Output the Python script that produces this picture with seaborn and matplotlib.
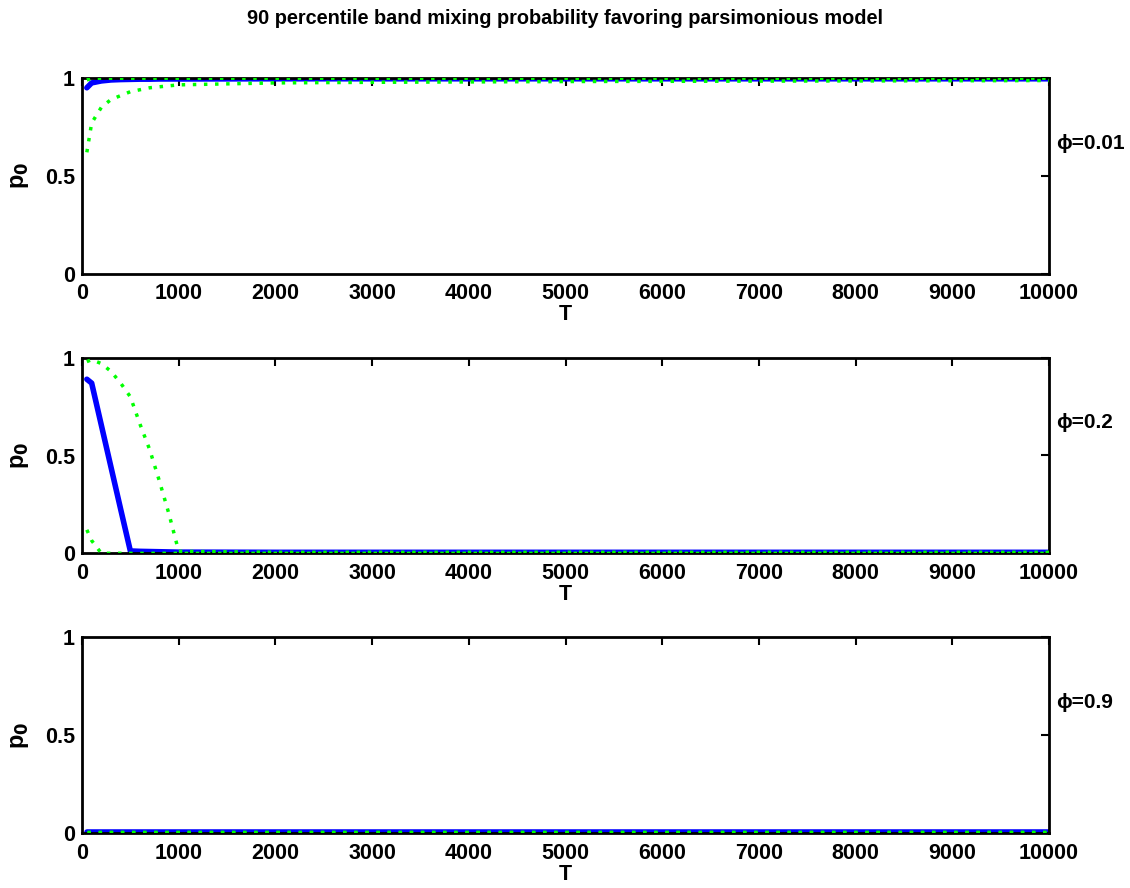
import pandas as pd
import matplotlib.pyplot as plt
import numpy as np
import seaborn as sns

# sample sizes T (the grid the curves were evaluated on)
T = [50, 100, 200, 300, 400, 500, 600, 700, 800, 900, 1000,
     2000, 3000, 4000, 5000, 6000, 7000, 8000, 9000, 10000]

phis = ['0.01', '0.2', '0.9']

# phi = 0.01
med_001 = [0.950, 0.975, 0.985, 0.990, 0.992, 0.993, 0.994, 0.994, 0.995, 0.995, 0.995,
           0.996, 0.996, 0.996, 0.996, 0.996, 0.996, 0.996, 0.996, 0.996]
lo_001 = [0.62, 0.77, 0.85, 0.89, 0.91, 0.93, 0.94, 0.95, 0.955, 0.96, 0.965,
          0.975, 0.978, 0.980, 0.982, 0.983, 0.984, 0.985, 0.986, 0.987]
hi_001 = [0.99, 0.998, 0.999, 0.999, 0.999, 0.999, 0.999, 0.999, 0.999, 0.999, 0.999,
          0.999, 0.999, 0.999, 0.999, 0.999, 0.999, 0.999, 0.999, 0.999]

# phi = 0.2
med_02 = [0.89, 0.87, 0.655, 0.44, 0.225, 0.012, 0.010, 0.009, 0.008, 0.007, 0.006,
          0.005, 0.005, 0.005, 0.005, 0.005, 0.005, 0.005, 0.005, 0.005]
lo_02 = [0.12, 0.065, 0.0, 0.0, 0.0, 0.0, 0.0, 0.0, 0.0, 0.0, 0.0,
         0.0, 0.0, 0.0, 0.0, 0.0, 0.0, 0.0, 0.0, 0.0]
hi_02 = [0.98, 0.99, 0.97, 0.93, 0.87, 0.80, 0.66, 0.53, 0.37, 0.20, 0.01,
         0.005, 0.005, 0.005, 0.005, 0.005, 0.005, 0.005, 0.005, 0.005]

# phi = 0.9
med_09 = [0.003] * 20
lo_09 = [0.003] * 20
hi_09 = [0.003] * 20

med = [med_001, med_02, med_09]
lo = [lo_001, lo_02, lo_09]
hi = [hi_001, hi_02, hi_09]

sns.set_style('white')
plt.rcParams['font.family'] = ['Liberation Sans', 'DejaVu Sans']
plt.rcParams['font.weight'] = 'bold'
for k in ['text.color', 'axes.labelcolor', 'xtick.color', 'ytick.color']:
    plt.rcParams[k] = 'black'

fig, axes = plt.subplots(3, 1, figsize=(11.3, 8.88), dpi=100)
fig.subplots_adjust(left=82 / 1130, right=1049 / 1130, top=1 - 78 / 888, bottom=1 - 833 / 888, hspace=0.43)

for i, ax in enumerate(axes):
    df = pd.DataFrame({'T': T, 'med': med[i], 'lo': lo[i], 'hi': hi[i]})
    sns.lineplot(data=df, x='T', y='med', ax=ax, color='#0000ff', linewidth=4, zorder=2)
    sns.lineplot(data=df, x='T', y='lo', ax=ax, color='#00ff00', linewidth=2.5, zorder=3)
    sns.lineplot(data=df, x='T', y='hi', ax=ax, color='#00ff00', linewidth=2.5, zorder=3)
    for line in ax.lines[1:]:
        line.set_linestyle((0, (1, 2.2)))
    ax.set_xlim(0, 10000)
    ax.set_ylim(0, 1)
    ax.set_xticks(np.arange(0, 10001, 1000))
    ax.set_yticks([0, 0.5, 1])
    ax.set_yticklabels(['0', '0.5', '1'])
    ax.tick_params(direction='in', length=6, width=1.5, labelsize=15.5, top=True, right=True)
    ax.tick_params(axis='x', pad=7)
    ax.tick_params(axis='y', pad=5)
    for s in ax.spines.values():
        s.set_linewidth(2)
        s.set_color('black')
    ax.set_xlabel('T', fontsize=15.5, fontweight='bold', labelpad=0)
    ax.set_ylabel('p$_\\mathbf{0}$', fontsize=17, fontweight='bold', labelpad=10)
    ax.text(1.007, 0.667, '\u03d5=' + phis[i], transform=ax.transAxes,
            fontsize=15, fontweight='bold', va='center', ha='left')

fig.suptitle('90 percentile band mixing probability favoring parsimonious model',
             fontsize=14.3, fontweight='bold', y=1 - 18 / 888, va='center')

plt.savefig('out.png', dpi=100)
